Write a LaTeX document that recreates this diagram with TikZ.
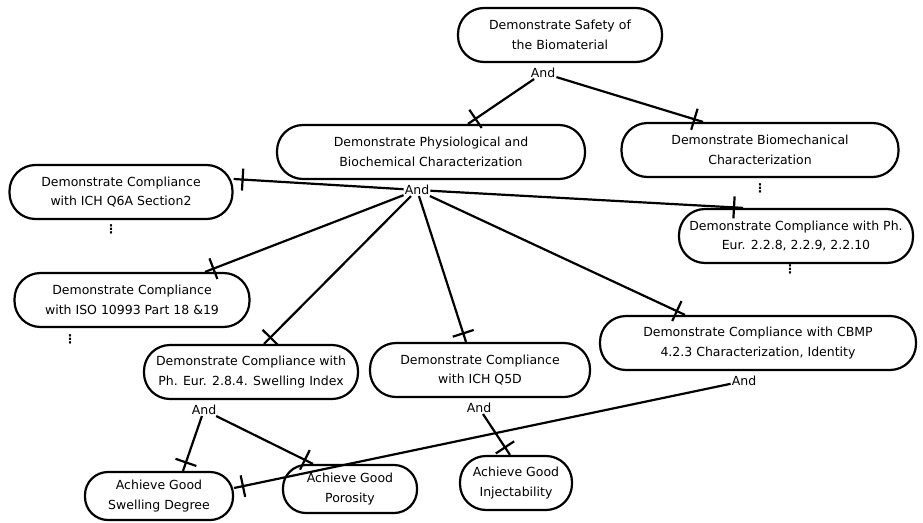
\documentclass[tikz,border=0pt]{standalone}
\usepackage{fontspec}
\setmainfont{DejaVu Sans}
\usetikzlibrary{decorations.markings}
\tikzstyle{goal} = [rectangle, draw, line width=2.2pt, rounded corners=26pt,
    align=center, minimum height=54pt, inner sep=2pt, font=\fontsize{12.5}{19.5}\selectfont]
\tikzstyle{conj} = [inner sep=1pt, font=\fontsize{12.5}{13}\selectfont]
\tikzstyle{more} = [inner sep=0pt, font=\fontsize{12}{13}\selectfont\bfseries]
\tikzstyle{line} = [draw, line width=2.2pt, postaction={decorate, decoration={markings,
    mark=at position -9pt with {\draw[line width=2.2pt] (0,-11pt) -- (0,11pt);}}}]

\begin{document}
\begin{tikzpicture}[x=1pt, y=-1pt]
                \useasboundingbox (0,0) rectangle (923,522);
                \node [goal, minimum width=204pt] at (560,35) (safety) {Demonstrate Safety of\\the Biomaterial};
                \node [conj] at (543,73) (safetyand) {And};
                \node [goal, minimum width=308pt] at (431,152) (physio) {Demonstrate Physiological and\\Biochemical Characterization};
                \node [conj] at (417,190) (physioand) {And};
                \node [goal, minimum width=277pt] at (760,150) (biomech) {Demonstrate Biomechanical\\Characterization};
                \node [more] at (760,188) (biomechmore) {⋮};
                \node [goal, minimum width=223pt] at (121,192) (q6a) {Demonstrate Compliance\\with ICH Q6A Section2};
                \node [more] at (111,229) (q6amore) {⋮};
                \node [goal, minimum width=234pt] at (796,236) (pheur) {Demonstrate Compliance with Ph.\\Eur. 2.2.8, 2.2.9, 2.2.10};
                \node [more] at (790,269) (pheurmore) {⋮};
                \node [goal, minimum width=235pt] at (132,300) (iso) {Demonstrate Compliance\\with ISO 10993 Part 18 \&19};
                \node [more] at (70,339) (isomore) {⋮};
                \node [goal, minimum width=214pt] at (251,372) (swell) {Demonstrate Compliance with\\Ph. Eur. 2.8.4. Swelling Index};
                \node [conj] at (204,410) (swelland) {And};
                \node [goal, minimum width=220pt] at (480,370) (q5d) {Demonstrate Compliance\\with ICH Q5D};
                \node [conj] at (479,408) (q5dand) {And};
                \node [goal, minimum width=316pt] at (758,343) (cbmp) {Demonstrate Compliance with CBMP\\4.2.3 Characterization, Identity};
                \node [conj] at (744,381) (cbmpand) {And};
                \node [goal, minimum width=148pt, minimum height=48pt, rounded corners=23pt] at (159,496) (sdeg) {Achieve Good\\Swelling Degree};
                \node [goal, minimum width=134pt, minimum height=48pt, rounded corners=23pt] at (350,489) (poro) {Achieve Good\\Porosity};
                \node [goal, minimum width=112pt] at (516,483) (inject) {Achieve Good\\Injectability};
                \path [line] (safetyand) -- ([xshift=37pt]physio.north);
                \path [line] (safetyand) -- ([xshift=-57pt]biomech.north);
                \path [line] (physioand) -- ([yshift=13pt]q6a.east);
                \path [line] (physioand) -- ([xshift=73pt]iso.north);
                \path [line] (physioand) -- ([xshift=13pt]swell.north);
                \path [line] (physioand) -- ([xshift=-14pt]q5d.north);
                \path [line] (physioand) -- ([xshift=-73pt]cbmp.north);
                \path [line] (physioand) -- ([xshift=-53pt]pheur.north);
                \path [line] (swelland) -- ([xshift=24pt]sdeg.north);
                \path [line] (swelland) -- ([xshift=-37pt]poro.north);
                \path [line] (q5dand) -- ([xshift=-6pt]inject.north);
                \path [line] (cbmpand) -- ([yshift=8pt]sdeg.east);
            \end{tikzpicture}
\end{document}
